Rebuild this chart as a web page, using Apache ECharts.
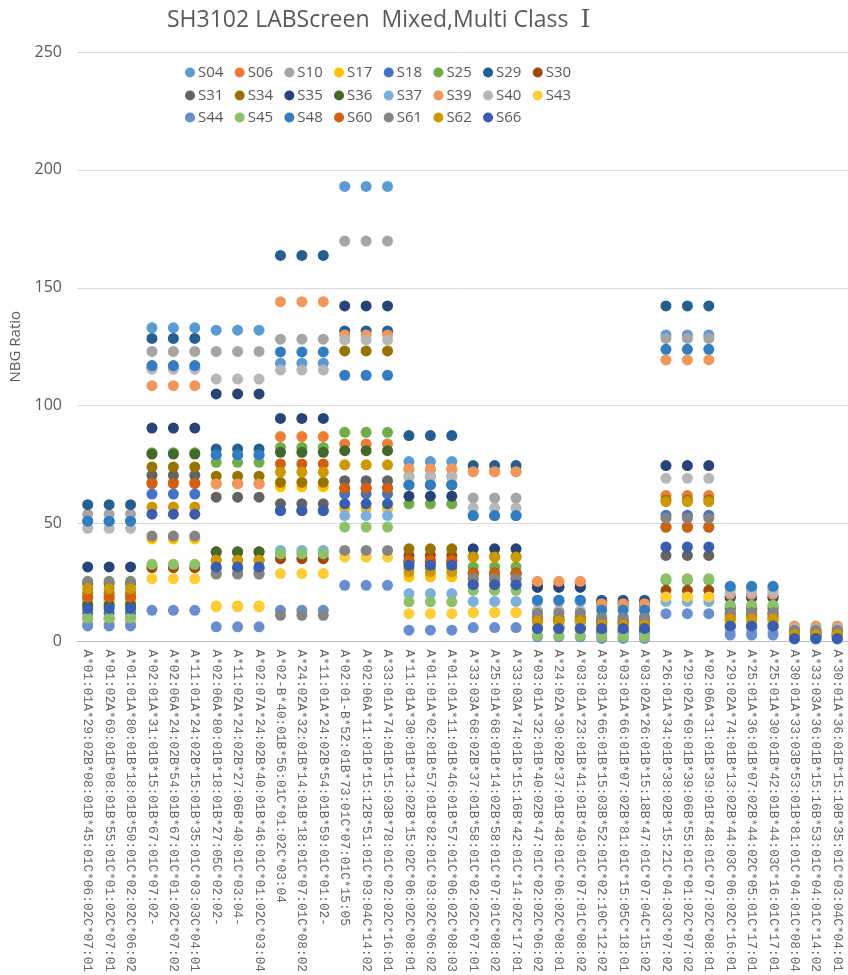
<!DOCTYPE html>
<html>
<head>
<meta charset="utf-8">
<title>SH3102 LABScreen</title>
<script src="https://cdn.jsdelivr.net/npm/echarts@6/dist/echarts.min.js"></script>
<style>
  html, body { margin: 0; padding: 0; background: #fff; }
  #main { width: 848px; height: 975px; }
</style>
</head>
<body>
<div id="main"></div>
<script>
var categories = [
  'A*01:01A*29:02B*08:01B*45:01C*06:02C*07:01',
  'A*01:02A*69:01B*08:01B*55:01C*01:02C*07:01',
  'A*01:01A*80:01B*18:01B*50:01C*02:02C*06:02',
  'A*02:01A*31:01B*15:01B*67:01C*07:02-',
  'A*02:06A*24:02B*54:01B*67:01C*01:02C*07:02',
  'A*11:01A*24:02B*15:01B*35:01C*03:03C*04:01',
  'A*02:06A*80:01B*18:01B*27:05C*02:02-',
  'A*11:02A*24:02B*27:06B*40:01C*03:04-',
  'A*02:07A*24:02B*40:01B*46:01C*01:02C*03:04',
  'A*02-B*40:01B*56:01C*01:02C*03:04',
  'A*24:02A*32:01B*14:01B*18:01C*07:01C*08:02',
  'A*11:01A*24:02B*54:01B*59:01C*01:02-',
  'A*02:01-B*52:01B*73:01C*07:01C*15:05',
  'A*02:06A*11:01B*15:12B*51:01C*03:04C*14:02',
  'A*33:01A*74:01B*15:03B*78:01C*02:02C*16:01',
  'A*11:01A*30:01B*13:02B*15:02C*06:02C*08:01',
  'A*01:01A*02:01B*57:01B*82:01C*03:02C*06:02',
  'A*01:01A*11:01B*46:01B*57:01C*06:02C*08:03',
  'A*33:03A*68:02B*37:01B*58:01C*02:02C*07:01',
  'A*25:01A*68:01B*14:02B*58:01C*07:01C*08:02',
  'A*33:03A*74:01B*15:16B*42:01C*14:02C*17:01',
  'A*03:01A*32:01B*40:02B*47:01C*02:02C*06:02',
  'A*24:02A*30:02B*37:01B*48:01C*06:02C*08:01',
  'A*03:01A*23:01B*41:01B*49:01C*07:01C*08:02',
  'A*03:01A*66:01B*15:03B*52:01C*02:10C*12:02',
  'A*03:01A*66:01B*07:02B*81:01C*15:05C*18:01',
  'A*03:02A*26:01B*15:18B*47:01C*07:04C*15:02',
  'A*26:01A*34:01B*38:02B*15:21C*04:03C*07:02',
  'A*29:02A*69:01B*39:06B*55:01C*01:02C*07:02',
  'A*02:06A*31:01B*39:01B*48:01C*07:02C*08:01',
  'A*29:02A*74:01B*13:02B*44:03C*06:02C*16:01',
  'A*25:01A*36:01B*07:02B*44:02C*05:01C*17:01',
  'A*25:01A*30:01B*42:01B*44:03C*16:01C*17:01',
  'A*30:01A*33:03B*53:01B*81:01C*04:01C*08:04',
  'A*33:03A*36:01B*15:16B*53:01C*04:01C*14:02',
  'A*30:01A*36:01B*15:10B*35:01C*03:04C*04:01'
];

var seriesNames = ['S04','S06','S10','S17','S18','S25','S29','S30',
                   'S31','S34','S35','S36','S37','S39','S40','S43',
                   'S44','S45','S48','S60','S61','S62','S66'];

var colors = ['#5B9BD5','#ED7D31','#A5A5A5','#FFC000','#4472C4','#70AD47','#255E91','#9E480E',
              '#636363','#997300','#264478','#43682B','#7CAFDD','#F1975A','#B7B7B7','#FFCD33',
              '#698ED0','#8CC168','#327DC2','#D26012','#848484','#CC9A00','#3A5DAE'];

// NBG ratio per sample, one value per category
var S04 = [51,51,51, 133,133,133, 132,132,132, 118,118,118, 193,193,193, 76.3,76.3,76.3, 53.4,53.4,53.4, 17.5,17.5,17.5, 15,15,15, 130,130,130, 23,23,23, 5,5,5];
var S06 = [17.5,17.5,17.5, 67.5,67.5,67.5, 67,67,67, 86.9,86.9,86.9, 83.8,83.8,83.8, 73,73,73, 72,72,72, 25,25,25, 15.5,15.5,15.5, 61.9,61.9,61.9, 10.5,10.5,10.5, 4,4,4];
var S10 = [54,54,54, 123,123,123, 123,123,123, 128.2,128.2,128.2, 169.8,169.8,169.8, 70,70,70, 60.8,60.8,60.8, 13,13,13, 10.5,10.5,10.5, 128.5,128.5,128.5, 22,22,22, 4.5,4.5,4.5];
var S17 = [16.5,16.5,16.5, 43.5,43.5,43.5, 15,15,15, 65.6,65.6,65.6, 56.3,56.3,56.3, 27.4,27.4,27.4, 12.3,12.3,12.3, 8.5,8.5,8.5, 7,7,7, 19,19,19, 9,9,9, 2.5,2.5,2.5];
var S18 = [12,12,12, 62.5,62.5,62.5, 31,31,31, 55.5,55.5,55.5, 62.6,62.6,62.6, 33.5,33.5,33.5, 24,24,24, 5.5,5.5,5.5, 5,5,5, 53.5,53.5,53.5, 6,6,6, 2,2,2];
var S25 = [15,15,15, 80,80,80, 76,76,76, 82.3,82.3,82.3, 88.7,88.7,88.7, 58.4,58.4,58.4, 31.6,31.6,31.6, 8,8,8, 4,4,4, 26,26,26, 15,15,15, 2,2,2];
var S29 = [58,58,58, 128.5,128.5,128.5, 81.6,81.6,81.6, 163.7,163.7,163.7, 131.7,131.7,131.7, 87.3,87.3,87.3, 74.6,74.6,74.6, 23.1,23.1,23.1, 17.5,17.5,17.5, 142.3,142.3,142.3, 19,19,19, 3,3,3];
var S30 = [9.7,9.7,9.7, 31.3,31.3,31.3, 37.9,37.9,37.9, 35.1,35.1,35.1, 65,65,65, 36.5,36.5,36.5, 29,29,29, 10,10,10, 8,8,8, 21.7,21.7,21.7, 7,7,7, 2.5,2.5,2.5];
var S31 = [24.5,24.5,24.5, 70.5,70.5,70.5, 61.2,61.2,61.2, 58.4,58.4,58.4, 68.2,68.2,68.2, 34,34,34, 26.6,26.6,26.6, 9,9,9, 9,9,9, 36.5,36.5,36.5, 12,12,12, 3.5,3.5,3.5];
var S34 = [20.5,20.5,20.5, 74,74,74, 70.1,70.1,70.1, 67.5,67.5,67.5, 123.2,123.2,123.2, 39.3,39.3,39.3, 36,36,36, 9,9,9, 7.5,7.5,7.5, 60,60,60, 9.5,9.5,9.5, 3,3,3];
var S35 = [31.6,31.6,31.6, 90.5,90.5,90.5, 105,105,105, 94.6,94.6,94.6, 142.3,142.3,142.3, 61.6,61.6,61.6, 39.3,39.3,39.3, 23,23,23, 16.5,16.5,16.5, 74.6,74.6,74.6, 18.5,18.5,18.5, 2.5,2.5,2.5];
var S36 = [15.5,15.5,15.5, 79.5,79.5,79.5, 38,38,38, 80.2,80.2,80.2, 80.9,80.9,80.9, 66.4,66.4,66.4, 28.8,28.8,28.8, 6,6,6, 4,4,4, 48.5,48.5,48.5, 14,14,14, 2,2,2];
var S37 = [7.5,7.5,7.5, 116,116,116, 79,79,79, 38.6,38.6,38.6, 53.4,53.4,53.4, 20.3,20.3,20.3, 17,17,17, 17,17,17, 3,3,3, 17,17,17, 4,4,4, 1.5,1.5,1.5];
var S39 = [19,19,19, 108.5,108.5,108.5, 66.8,66.8,66.8, 144.1,144.1,144.1, 130,130,130, 73.2,73.2,73.2, 72,72,72, 25.5,25.5,25.5, 16,16,16, 119.4,119.4,119.4, 20,20,20, 6.6,6.6,6.6];
var S40 = [48,48,48, 115.5,115.5,115.5, 111.3,111.3,111.3, 115.1,115.1,115.1, 127.9,127.9,127.9, 69.7,69.7,69.7, 56.6,56.6,56.6, 12.6,12.6,12.6, 9.7,9.7,9.7, 69.2,69.2,69.2, 21,21,21, 5.5,5.5,5.5];
var S43 = [9,9,9, 26.6,26.6,26.6, 14.7,14.7,14.7, 28.8,28.8,28.8, 35.8,35.8,35.8, 11.8,11.8,11.8, 12.3,12.3,12.3, 7,7,7, 6.5,6.5,6.5, 18.9,18.9,18.9, 8.5,8.5,8.5, 2,2,2];
var S44 = [6.6,6.6,6.6, 13.2,13.2,13.2, 6.2,6.2,6.2, 13.2,13.2,13.2, 23.8,23.8,23.8, 4.8,4.8,4.8, 5.9,5.9,5.9, 2,2,2, 1.3,1.3,1.3, 11.8,11.8,11.8, 2.7,2.7,2.7, 1,1,1];
var S45 = [10,10,10, 32.7,32.7,32.7, 28.5,28.5,28.5, 37.2,37.2,37.2, 48.5,48.5,48.5, 16.8,16.8,16.8, 21.7,21.7,21.7, 2.5,2.5,2.5, 2,2,2, 26.6,26.6,26.6, 15.4,15.4,15.4, 1.5,1.5,1.5];
var S48 = [51,51,51, 117,117,117, 79.1,79.1,79.1, 122.8,122.8,122.8, 112.9,112.9,112.9, 66.4,66.4,66.4, 53.4,53.4,53.4, 17.5,17.5,17.5, 13.3,13.3,13.3, 123.9,123.9,123.9, 23.4,23.4,23.4, 4,4,4];
var S60 = [18.9,18.9,18.9, 67,67,67, 34.4,34.4,34.4, 75.3,75.3,75.3, 65,65,65, 34.4,34.4,34.4, 28.8,28.8,28.8, 10.2,10.2,10.2, 8,8,8, 48.5,48.5,48.5, 11,11,11, 3.5,3.5,3.5];
var S61 = [25.5,25.5,25.5, 44.7,44.7,44.7, 28.8,28.8,28.8, 11.1,11.1,11.1, 38.6,38.6,38.6, 31,31,31, 26.6,26.6,26.6, 12,12,12, 10,10,10, 52.3,52.3,52.3, 12.3,12.3,12.3, 4.8,4.8,4.8];
var S62 = [22.4,22.4,22.4, 57,57,57, 34.4,34.4,34.4, 71.8,71.8,71.8, 74.9,74.9,74.9, 29.5,29.5,29.5, 35.8,35.8,35.8, 8.7,8.7,8.7, 7,7,7, 59.3,59.3,59.3, 9.5,9.5,9.5, 3,3,3];
var S66 = [14,14,14, 54,54,54, 31.6,31.6,31.6, 55.5,55.5,55.5, 58.4,58.4,58.4, 32.3,32.3,32.3, 24.1,24.1,24.1, 5.5,5.5,5.5, 5.5,5.5,5.5, 40.1,40.1,40.1, 6.6,6.6,6.6, 1.3,1.3,1.3];

var seriesValues = [S04,S06,S10,S17,S18,S25,S29,S30,S31,S34,S35,S36,S37,S39,S40,S43,S44,S45,S48,S60,S61,S62,S66];

var yTicks = { min: 0, max: 250, interval: 50 };

var textColor = '#595959';
var fontUi = '"Open Sans", "Noto Sans", sans-serif';

var series = [];
for (var i = 0; i < seriesNames.length; i++) {
  series.push({
    name: seriesNames[i],
    type: 'scatter',
    symbol: 'circle',
    symbolSize: 11,
    itemStyle: { color: colors[i], opacity: 1 },
    data: seriesValues[i]
  });
}

function legendRow(names, top) {
  return {
    data: names,
    left: 180,
    top: top,
    orient: 'horizontal',
    icon: 'circle',
    itemWidth: 10,
    itemHeight: 10,
    itemGap: 11.3,
    selectedMode: false,
    textStyle: { color: textColor, fontSize: 15, fontFamily: fontUi, width: 36, padding: [0, 0, 0, -2] }
  };
}

var myChart = echarts.init(document.getElementById('main'));
var option = {
  animation: false,
  backgroundColor: '#fff',
  color: colors,
  title: {
    // the numeral at the end is drawn in a serif face, as in the source chart
    text: '{a|SH3102 LABScreen  Mixed,Multi Class  }{b|Ⅰ}',
    left: 162,
    top: 3,
    textStyle: {
      fontWeight: 'normal',
      rich: {
        a: { color: textColor, fontSize: 23, fontWeight: 'normal', fontFamily: fontUi },
        b: { color: textColor, fontSize: 25, fontWeight: 'normal', fontFamily: '"DejaVu Serif", "Liberation Serif", serif' }
      }
    }
  },
  legend: [
    legendRow(seriesNames.slice(0, 8), 60),
    legendRow(seriesNames.slice(8, 16), 83),
    legendRow(seriesNames.slice(16), 105)
  ],
  grid: {
    left: 77,
    top: 52,
    width: 775,
    height: 591
  },
  xAxis: {
    type: 'category',
    data: categories,
    axisLine: { show: true, lineStyle: { color: '#BFBFBF', width: 1 } },
    axisTick: { show: false },
    splitLine: { show: false },
    axisLabel: {
      interval: 0,
      rotate: -90,
      margin: 8,
      color: '#666666',
      fontSize: 12.8,
      fontFamily: '"Liberation Mono", "DejaVu Sans Mono", monospace'
    }
  },
  yAxis: {
    type: 'value',
    min: yTicks.min,
    max: yTicks.max,
    interval: yTicks.interval,
    name: 'NBG Ratio',
    nameLocation: 'middle',
    nameRotate: 90,
    nameGap: 52,
    nameTextStyle: { color: textColor, fontSize: 15, fontFamily: fontUi },
    axisLine: { show: false },
    axisTick: { show: false },
    axisLabel: { color: textColor, fontSize: 16, fontFamily: fontUi, margin: 15 },
    splitLine: { show: true, lineStyle: { color: '#D9D9D9', width: 1 } }
  },
  series: series
};

myChart.setOption(option);
</script>
</body>
</html>
